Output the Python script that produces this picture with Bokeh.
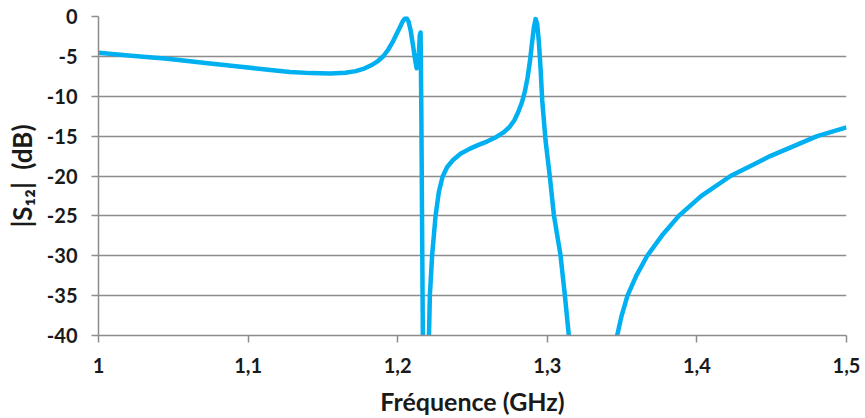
from bokeh.plotting import figure
from bokeh.models import FixedTicker, Range1d
from bokeh.embed import file_html
from bokeh.resources import INLINE

# Frequency (GHz) and |S12| (dB)
freq = [1.000, 1.020, 1.046, 1.070, 1.095, 1.115, 1.128, 1.142, 1.155, 1.165,
        1.172, 1.178, 1.183, 1.187, 1.1905, 1.1935, 1.1965, 1.199, 1.2015, 1.2035,
        1.2056, 1.2072, 1.2087, 1.2102, 1.2117, 1.2127, 1.2135, 1.2142, 1.2148,
        1.2153, 1.2158, 1.2168, 1.2188, 1.2209, 1.2215, 1.2230, 1.2253, 1.2275,
        1.2300, 1.2330, 1.2370, 1.2420, 1.2480, 1.2540, 1.2600, 1.2660, 1.2710,
        1.2750, 1.2780, 1.2805, 1.2830, 1.2850, 1.2868, 1.2884, 1.2898, 1.2910,
        1.2922, 1.2932, 1.2943, 1.2955, 1.2966, 1.2988, 1.3017, 1.3044, 1.3088,
        1.3117, 1.3144, 1.3300, 1.3467, 1.3497, 1.3536, 1.3595, 1.3668, 1.3765,
        1.3879, 1.4030, 1.4225, 1.4490, 1.4804, 1.5000]
s12_db = [-4.55, -4.9, -5.3, -5.8, -6.3, -6.7, -6.95, -7.1, -7.15, -7.05,
          -6.85, -6.5, -6.05, -5.55, -4.95, -4.2, -3.25, -2.3, -1.35, -0.55,
          -0.1, -0.6, -1.8, -3.6, -5.5, -6.5, -6.0, -4.5, -2.3,
          -2.0, -12.0, -40.0, -55.0, -40.0, -35.0, -30.0, -25.0, -22.0,
          -20.1, -18.9, -18.0, -17.2, -16.6, -16.1, -15.65, -15.1, -14.5,
          -13.8, -13.0, -12.0, -10.8, -9.4, -7.7, -5.6, -3.3, -1.4,
          -0.3, -0.9, -3.0, -6.5, -10.5, -15.5, -20.1, -24.9, -29.9,
          -34.9, -40.0, -60.0, -40.0, -37.5, -35.0, -32.5, -30.0, -27.5,
          -25.0, -22.5, -20.0, -17.5, -15.0, -13.9]

x_ticks = [1.0, 1.1, 1.2, 1.3, 1.4, 1.5]
x_labels = ["1", "1,1", "1,2", "1,3", "1,4", "1,5"]
y_ticks = [-40, -35, -30, -25, -20, -15, -10, -5, 0]
y_labels = ["-40", "-35", "-30", "-25", "-20", "-15", "-10", "-5", "0"]

x_title = "Fréquence (GHz)"
y_title = "|S₁₂|\u00a0\u00a0(dB)"

FONT = "Lato"
TEXT = "#1a1a1a"
GRID = "#8c8c8c"

p = figure(width=865, height=418, output_backend="svg", toolbar_location=None,
           x_range=Range1d(x_ticks[0], x_ticks[-1]),
           y_range=Range1d(y_ticks[0], y_ticks[-1]),
           min_border_left=98, min_border_right=19,
           min_border_top=16, min_border_bottom=83)
p.outline_line_color = None
p.background_fill_color = "white"
p.border_fill_color = "white"

p.line(freq, s12_db, line_color="#00B0F0", line_width=4.5, line_join="round")

p.xgrid.visible = False
p.ygrid.ticker = FixedTicker(ticks=y_ticks)
p.ygrid.grid_line_color = GRID
p.ygrid.grid_line_width = 1.5

for ax, ticks, labels in ((p.xaxis[0], x_ticks, x_labels), (p.yaxis[0], y_ticks, y_labels)):
    ax.ticker = FixedTicker(ticks=ticks)
    ax.major_label_overrides = {t: lab for t, lab in zip(ticks, labels)}
    ax.axis_line_color = GRID
    ax.axis_line_width = 1.5
    ax.major_tick_line_color = GRID
    ax.major_tick_line_width = 1.5
    ax.major_tick_out = 7
    ax.major_tick_in = 0
    ax.minor_tick_line_color = None
    ax.major_label_text_font = FONT
    ax.major_label_text_font_style = "bold"
    ax.major_label_text_font_size = "20px"
    ax.major_label_text_color = TEXT
    ax.axis_label_text_font = FONT
    ax.axis_label_text_font_style = "bold"
    ax.axis_label_text_font_size = "25px"
    ax.axis_label_text_color = TEXT

p.yaxis.axis_label_text_font_size = "26px"
p.xaxis.axis_label = x_title
p.yaxis.axis_label = y_title
p.xaxis.major_label_standoff = 15
p.yaxis.major_label_standoff = 14
p.xaxis.axis_label_standoff = 10
p.yaxis.axis_label_standoff = 6

open("out.html", "w").write(file_html(p, INLINE))
